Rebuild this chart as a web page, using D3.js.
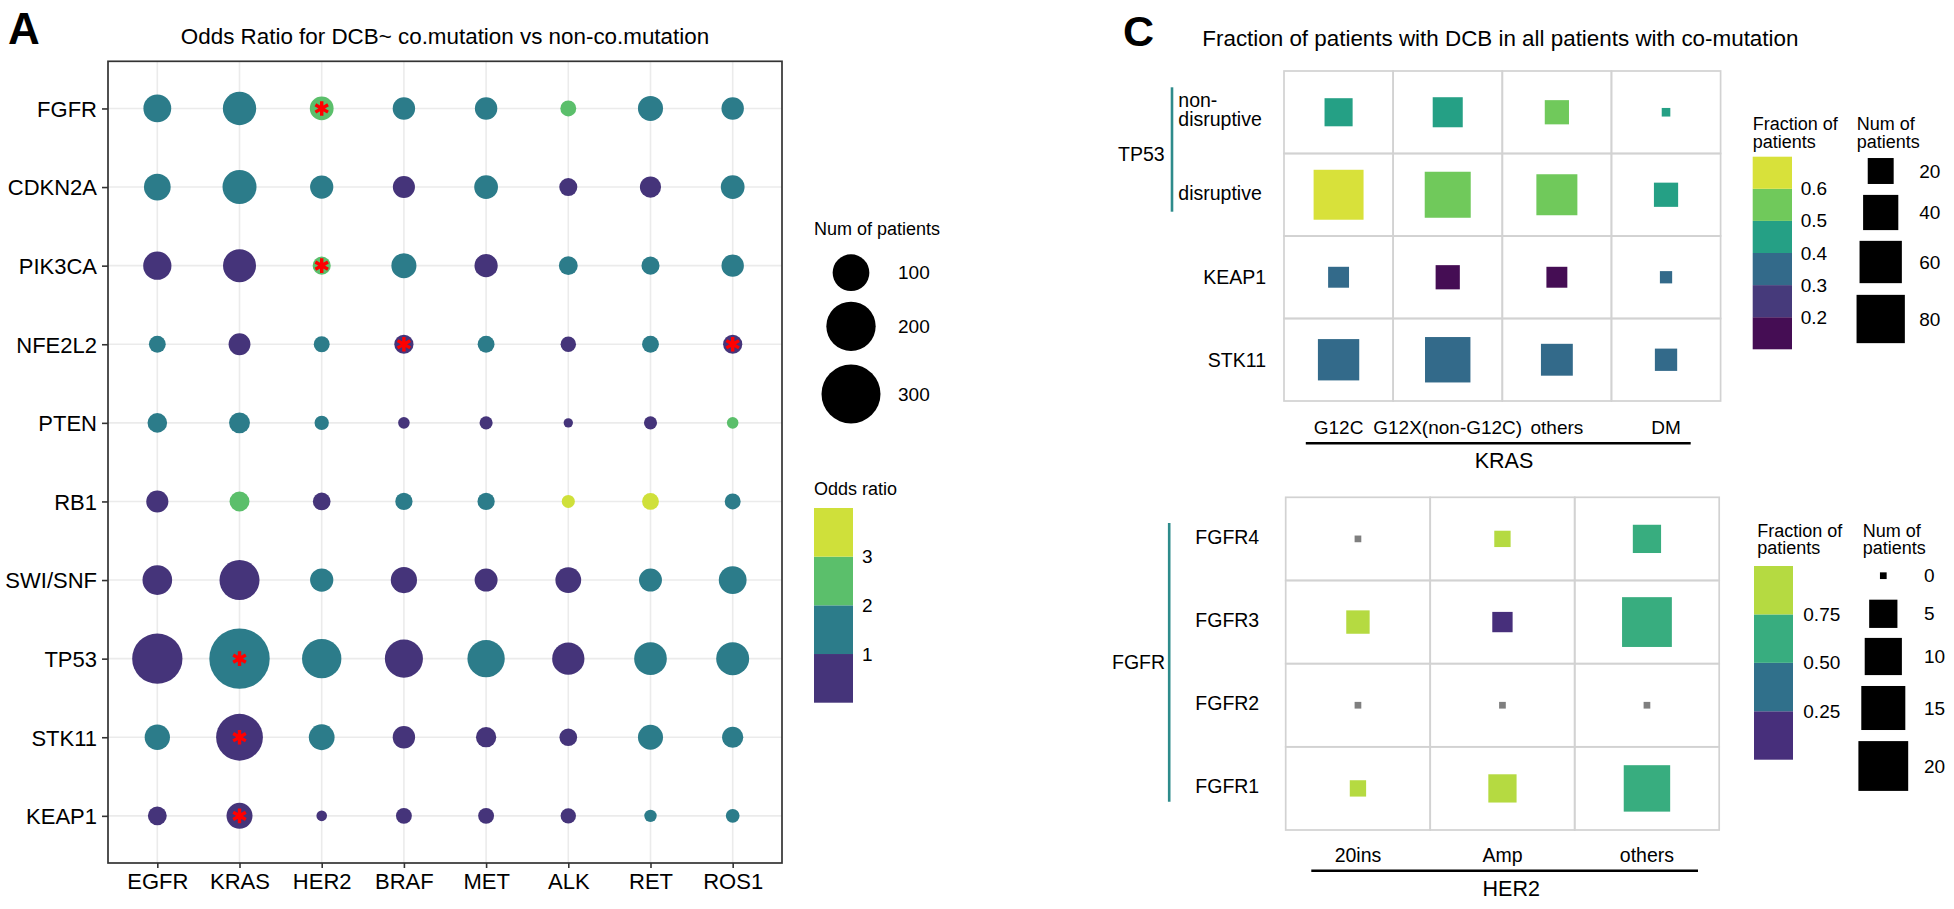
<!DOCTYPE html>
<html><head><meta charset="utf-8">
<script src="https://cdn.jsdelivr.net/npm/d3@7"></script>
<style>html,body{margin:0;padding:0;background:#fff;}svg{display:block;}</style>
</head><body>
<script>
// ---------- DATA ----------
const colsA = ["EGFR","KRAS","HER2","BRAF","MET","ALK","RET","ROS1"];
const rowsA = ["FGFR","CDKN2A","PIK3CA","NFE2L2","PTEN","RB1","SWI/SNF","TP53","STK11","KEAP1"];
const patientsA = [
  [50, 79, 33, 28, 28, 10, 38, 28],
  [45, 83, 31, 27, 33, 15, 24, 33],
  [52, 77, 15, 38, 31, 17, 15, 28],
  [12, 26, 10, 18, 12,  9, 12, 18],
  [19, 23,  7,  3,  5,  1,  5,  3],
  [27, 20, 14, 13, 13,  5, 12, 10],
  [59,123, 31, 43, 30, 41, 30, 50],
  [209,316,118,109,104, 73, 75, 77],
  [39,177, 41, 28, 21, 14, 38, 24],
  [17, 42,  2, 10, 10,  9,  4,  6]
];
const oddsA = [
  [1.3, 1.2, 2.4, 1.4, 1.3, 2.3, 1.5, 1.2],
  [1.2, 1.1, 1.4, 0.7, 1.3, 0.6, 0.8, 1.5],
  [0.8, 0.9, 2.6, 1.3, 0.8, 1.5, 1.4, 1.2],
  [1.5, 0.7, 1.6, 0.5, 1.4, 0.6, 1.3, 0.5],
  [1.2, 1.3, 1.5, 0.6, 0.7, 0.5, 0.7, 2.2],
  [0.7, 2.2, 0.8, 1.3, 1.4, 3.4, 3.3, 1.4],
  [0.8, 0.7, 1.3, 0.8, 0.7, 0.9, 1.3, 1.2],
  [0.8, 1.4, 1.2, 0.8, 1.1, 0.8, 1.2, 1.3],
  [1.2, 0.5, 1.3, 0.8, 0.7, 0.6, 1.3, 1.2],
  [0.7, 0.3, 0.5, 0.6, 0.7, 0.6, 1.2, 1.3]
];
const signifA = [["FGFR","HER2"],["PIK3CA","HER2"],["NFE2L2","BRAF"],["NFE2L2","ROS1"],["TP53","KRAS"],["STK11","KRAS"],["KEAP1","KRAS"]];
const sizeBreaksA = [100, 200, 300];
const oddsBreaks = [1, 2, 3];

const krasCols = ["G12C","G12X(non-G12C)","others","DM"];
const krasRows = ["TP53 non-disruptive","TP53 disruptive","KEAP1","STK11"];
const krasPatients = [
  [24, 28, 17, 1],
  [86, 72, 56, 17],
  [12, 17, 12, 3],
  [57, 70, 32, 14]
];
const krasFraction = [
  [0.46, 0.45, 0.53, 0.45],
  [0.63, 0.54, 0.55, 0.47],
  [0.33, 0.12, 0.17, 0.33],
  [0.35, 0.34, 0.31, 0.36]
];
const fracBreaksTop = [0.2, 0.3, 0.4, 0.5, 0.6];
const sizeBreaksTop = [20, 40, 60, 80];

const her2Cols = ["20ins","Amp","others"];
const fgfrRows = ["FGFR4","FGFR3","FGFR2","FGFR1"];
const her2Patients = [
  [0, 1, 5],
  [3, 2, 20],
  [0, 0, 0],
  [1, 5, 17]
];
const her2Fraction = [
  [null, 1.0, 0.6],
  [1.0, 0.0, 0.65],
  [null, null, null],
  [1.0, 0.8, 0.65]
];
const fracBreaksBot = [0.25, 0.5, 0.75];
const sizeBreaksBot = [0, 5, 10, 15, 20];

// ---------- SETUP ----------
const FONT = "'Liberation Sans', Arial, Helvetica, sans-serif";
const W = 1954, H = 909;
const svg = d3.select("body").append("svg").attr("width", W).attr("height", H)
  .style("font-family", FONT);
svg.append("rect").attr("width", W).attr("height", H).attr("fill", "#fff");

function txt(g, x, y, s, size, anchor, opts) {
  const t = g.append("text").attr("x", x).attr("y", y).text(s)
    .attr("font-size", size).attr("text-anchor", anchor || "start")
    .attr("dominant-baseline", "central").attr("fill", "#000");
  if (opts && opts.bold) t.attr("font-weight", "bold");
  return t;
}

// ---------- PANEL A ----------
const gA = svg.append("g");
const AX0 = 108, AX1 = 782, AY0 = 61.3, AY1 = 863;
const xA = d3.scalePoint().domain(colsA).range([AX0, AX1]).padding(0.6);
const yA = d3.scalePoint().domain(rowsA).range([AY0, AY1]).padding(0.6);
const rA = d3.scaleSqrt().domain([0, 300]).range([3.15, 29.5]);
const colA = d3.scaleThreshold().domain(oddsBreaks).range(["#45347a", "#2c7c8a", "#5bbf6b", "#cfe03a"]);

txt(gA, 8, 28, "A", 44, "start", {bold: true});
txt(gA, (AX0 + AX1) / 2, 36, "Odds Ratio for DCB~ co.mutation vs non-co.mutation", 22.4, "middle");

gA.selectAll("line.vg").data(colsA).join("line").attr("class", "vg")
  .attr("x1", d => xA(d)).attr("x2", d => xA(d)).attr("y1", AY0).attr("y2", AY1)
  .attr("stroke", "#ebebeb").attr("stroke-width", 1.6);
gA.selectAll("line.hg").data(rowsA).join("line").attr("class", "hg")
  .attr("y1", d => yA(d)).attr("y2", d => yA(d)).attr("x1", AX0).attr("x2", AX1)
  .attr("stroke", "#ebebeb").attr("stroke-width", 1.6);

const cellsA = rowsA.flatMap((r, i) => colsA.map((c, j) => ({r, c, n: patientsA[i][j], or: oddsA[i][j]})));
gA.selectAll("circle.pt").data(cellsA).join("circle").attr("class", "pt")
  .attr("cx", d => xA(d.c)).attr("cy", d => yA(d.r)).attr("r", d => rA(d.n))
  .attr("fill", d => colA(d.or));

const star = d3.symbol().type(d3.symbolAsterisk).size(150);
gA.selectAll("path.star").data(signifA).join("path").attr("class", "star")
  .attr("d", star).attr("transform", d => `translate(${xA(d[1])},${yA(d[0])})`)
  .attr("fill", "none").attr("stroke", "#ff0000").attr("stroke-width", 3.4);

gA.append("rect").attr("x", AX0).attr("y", AY0).attr("width", AX1 - AX0).attr("height", AY1 - AY0)
  .attr("fill", "none").attr("stroke", "#333").attr("stroke-width", 1.7);

function styleAxis(g) {
  g.select(".domain").remove();
  g.selectAll(".tick line").attr("stroke", "#333").attr("stroke-width", 1.6);
  g.selectAll(".tick text").attr("font-size", 22).attr("fill", "#000").attr("font-family", FONT);
}
gA.append("g").attr("transform", `translate(0,${AY1})`)
  .call(d3.axisBottom(xA).tickSize(5).tickPadding(5)).call(styleAxis);
gA.append("g").attr("transform", `translate(${AX0},0)`)
  .call(d3.axisLeft(yA).tickSize(6).tickPadding(5)).call(styleAxis)
  .selectAll(".tick text").attr("dy", "0.36em");

// legend A
const gLA = svg.append("g");
txt(gLA, 814, 229, "Num of patients", 18);
const legY = [272.7, 326.3, 394];
gLA.selectAll("circle").data(sizeBreaksA).join("circle")
  .attr("cx", 851).attr("cy", (d, i) => legY[i]).attr("r", d => rA(d)).attr("fill", "#000");
sizeBreaksA.forEach((d, i) => txt(gLA, 898, legY[i], d, 19));
txt(gLA, 814, 489, "Odds ratio", 18);
const barA = d3.scaleLinear().domain([0, 4]).range([702.7, 508]);
const binsA = [0, 1, 2, 3];
gLA.selectAll("rect").data(binsA).join("rect")
  .attr("x", 814).attr("width", 39).attr("y", d => barA(d + 1)).attr("height", d => barA(d) - barA(d + 1))
  .attr("fill", d => colA.range()[d]);
oddsBreaks.forEach((b, i) => txt(gLA, 862, barA(i + 1), b, 19));

// ---------- PANEL C (top) ----------
const gC = svg.append("g");
txt(gC, 1123, 31, "C", 43, "start", {bold: true});
txt(gC, 1202.3, 38, "Fraction of patients with DCB in all patients with co-mutation", 22.4, "start");

const xK = d3.scaleBand().domain(krasCols).range([1284, 1720.6]);
const yK = d3.scaleBand().domain(krasRows).range([71, 401]);
const sK = d3.scaleSqrt().domain([0, 80]).range([3.6, 48.3]);
const topColors = ["#450d54", "#463a7b", "#336a8a", "#25a085", "#70c95b", "#d8e13a"];
const colK = d3.scaleThreshold().domain(fracBreaksTop).range(topColors);
const cellsK = krasRows.flatMap((r, i) => krasCols.map((c, j) => ({r, c, n: krasPatients[i][j], f: krasFraction[i][j]})));
const GRID = "#d2d2d2";
gC.selectAll("rect.cell").data(cellsK).join("rect").attr("class", "cell")
  .attr("x", d => xK(d.c)).attr("y", d => yK(d.r)).attr("width", xK.bandwidth()).attr("height", yK.bandwidth())
  .attr("fill", "none").attr("stroke", GRID).attr("stroke-width", 1.7);
gC.selectAll("rect.sq").data(cellsK).join("rect").attr("class", "sq")
  .attr("x", d => xK(d.c) + xK.bandwidth() / 2 - sK(d.n) / 2)
  .attr("y", d => yK(d.r) + yK.bandwidth() / 2 - sK(d.n) / 2)
  .attr("width", d => sK(d.n)).attr("height", d => sK(d.n))
  .attr("fill", d => colK(d.f));

const cyK = r => yK(r) + yK.bandwidth() / 2;
txt(gC, 1178.3, cyK(krasRows[0]) - 12.5, "non-", 19.5);
txt(gC, 1178.3, cyK(krasRows[0]) + 7, "disruptive", 19.5);
txt(gC, 1178.3, cyK(krasRows[1]) - 2, "disruptive", 19.5);
txt(gC, 1118, (cyK(krasRows[0]) + cyK(krasRows[1])) / 2, "TP53", 19.5);
gC.append("line").attr("x1", 1172).attr("x2", 1172).attr("y1", 87.3).attr("y2", 211.7)
  .attr("stroke", "#2e8b8b").attr("stroke-width", 2.6);
txt(gC, 1266, cyK("KEAP1"), "KEAP1", 19.5, "end");
txt(gC, 1266, cyK("STK11"), "STK11", 19.5, "end");
krasCols.forEach(c => txt(gC, xK(c) + xK.bandwidth() / 2, 427, c, 19, "middle"));
gC.append("line").attr("x1", 1305.8).attr("x2", 1690.7).attr("y1", 443.3).attr("y2", 443.3)
  .attr("stroke", "#000").attr("stroke-width", 2.6);
txt(gC, 1504, 461, "KRAS", 21.5, "middle");

// legend top
txt(gC, 1752.7, 124, "Fraction of", 18);
txt(gC, 1752.7, 141.7, "patients", 18);
const barK = d3.scaleLinear().domain([0, 6]).range([349.3, 156.7]);
gC.selectAll("rect.lk").data(d3.range(6)).join("rect").attr("class", "lk")
  .attr("x", 1752.7).attr("width", 39.3).attr("y", d => barK(d + 1)).attr("height", d => barK(d) - barK(d + 1))
  .attr("fill", d => topColors[d]);
fracBreaksTop.forEach((b, i) => txt(gC, 1800.7, barK(i + 1), b.toFixed(1), 19));
txt(gC, 1856.7, 124, "Num of", 18);
txt(gC, 1856.7, 141.7, "patients", 18);
const legYK = [171, 212.5, 262, 319];
gC.selectAll("rect.lks").data(sizeBreaksTop).join("rect").attr("class", "lks")
  .attr("x", d => 1880.7 - sK(d) / 2).attr("y", (d, i) => legYK[i] - sK(d) / 2)
  .attr("width", d => sK(d)).attr("height", d => sK(d)).attr("fill", "#000");
sizeBreaksTop.forEach((b, i) => txt(gC, 1919.3, legYK[i], b, 19));

// ---------- PANEL C (bottom) ----------
const xH = d3.scaleBand().domain(her2Cols).range([1285.7, 1719.2]);
const yH = d3.scaleBand().domain(fgfrRows).range([497.3, 830]);
const sH = d3.scaleSqrt().domain([0, 20]).range([6.7, 49.8]);
const botColors = ["#472f7b", "#30708b", "#38ad7f", "#b5da41"];
const colH = d3.scaleThreshold().domain(fracBreaksBot).range(botColors);
const cellsH = fgfrRows.flatMap((r, i) => her2Cols.map((c, j) => ({r, c, n: her2Patients[i][j], f: her2Fraction[i][j]})));
gC.selectAll("rect.cellh").data(cellsH).join("rect").attr("class", "cellh")
  .attr("x", d => xH(d.c)).attr("y", d => yH(d.r)).attr("width", xH.bandwidth()).attr("height", yH.bandwidth())
  .attr("fill", "none").attr("stroke", GRID).attr("stroke-width", 1.7);
gC.selectAll("rect.sqh").data(cellsH).join("rect").attr("class", "sqh")
  .attr("x", d => xH(d.c) + xH.bandwidth() / 2 - sH(d.n) / 2)
  .attr("y", d => yH(d.r) + yH.bandwidth() / 2 - sH(d.n) / 2)
  .attr("width", d => sH(d.n)).attr("height", d => sH(d.n))
  .attr("fill", d => d.f === null ? "#7f7f7f" : colH(d.f));
const cyH = r => yH(r) + yH.bandwidth() / 2;
fgfrRows.forEach(r => txt(gC, 1195.3, cyH(r) - 2, r, 19.5));
txt(gC, 1112, 661.7, "FGFR", 19.5);
gC.append("line").attr("x1", 1169.2).attr("x2", 1169.2).attr("y1", 523).attr("y2", 801.7)
  .attr("stroke", "#2e8b8b").attr("stroke-width", 2.6);
her2Cols.forEach(c => txt(gC, xH(c) + xH.bandwidth() / 2, 855, c, 19.5, "middle"));
gC.append("line").attr("x1", 1311.3).attr("x2", 1698).attr("y1", 870.7).attr("y2", 870.7)
  .attr("stroke", "#000").attr("stroke-width", 2.6);
txt(gC, 1511.2, 889.3, "HER2", 21.5, "middle");

// legend bottom
txt(gC, 1757.3, 531, "Fraction of", 18);
txt(gC, 1757.3, 547.7, "patients", 18);
const barH = d3.scaleLinear().domain([0, 4]).range([759.7, 566]);
gC.selectAll("rect.lh").data(d3.range(4)).join("rect").attr("class", "lh")
  .attr("x", 1754).attr("width", 39).attr("y", d => barH(d + 1)).attr("height", d => barH(d) - barH(d + 1))
  .attr("fill", d => botColors[d]);
fracBreaksBot.forEach((b, i) => txt(gC, 1803.3, barH(i + 1), b.toFixed(2), 19));
txt(gC, 1862.7, 531, "Num of", 18);
txt(gC, 1862.7, 547.7, "patients", 18);
const legYH = [575.7, 613.8, 656.5, 708, 766];
gC.selectAll("rect.lhs").data(sizeBreaksBot).join("rect").attr("class", "lhs")
  .attr("x", d => 1883.3 - sH(d) / 2).attr("y", (d, i) => legYH[i] - sH(d) / 2)
  .attr("width", d => sH(d)).attr("height", d => sH(d)).attr("fill", "#000");
sizeBreaksBot.forEach((b, i) => txt(gC, 1924, legYH[i], b, 19));
</script>
</body></html>
